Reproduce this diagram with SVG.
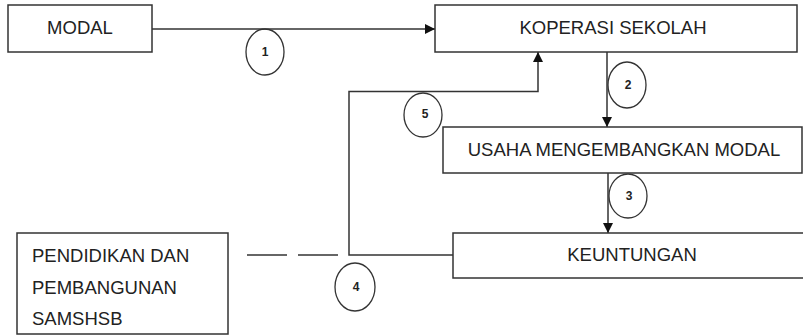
<svg xmlns="http://www.w3.org/2000/svg" width="803" height="335" viewBox="0 0 803 335">
<style>
.box{fill:#fff;stroke:#333;stroke-width:1.5}
.lbl{font-family:"Liberation Sans",Arial,sans-serif;font-size:18.5px;fill:#222}
.c{fill:none;stroke:#333;stroke-width:1.3}
.num{font-family:"Liberation Sans",Arial,sans-serif;font-size:12px;font-weight:bold;fill:#222;text-anchor:middle}
.ln{fill:none;stroke:#333;stroke-width:1.5}
</style>
<defs>
<marker id="ah" viewBox="0 0 10 10" refX="10" refY="5" markerWidth="10" markerHeight="10" markerUnits="userSpaceOnUse" orient="auto">
<path d="M0,0 L10,5 L0,10 z" fill="#111"/>
</marker>
</defs>
<rect width="803" height="335" fill="#fff"/>
<g id="connectors">
<line class="ln" x1="152" y1="29" x2="435" y2="29" marker-end="url(#ah)"/>
<line class="ln" x1="607" y1="52" x2="607" y2="127" marker-end="url(#ah)"/>
<line class="ln" x1="608" y1="173" x2="608" y2="233" marker-end="url(#ah)"/>
<polyline class="ln" points="453,255 349,255 349,91.5 538,91.5 538,52" marker-end="url(#ah)"/>
<line class="ln" x1="247" y1="255" x2="287" y2="255"/>
<line class="ln" x1="298" y1="255" x2="338" y2="255"/>
<g id="lbl1"><ellipse class="c" cx="265" cy="52" rx="19" ry="23"/><text class="num" x="265" y="56">1</text></g>
<g id="lbl2"><ellipse class="c" cx="627" cy="85" rx="19" ry="23"/><text class="num" x="628" y="89">2</text></g>
<g id="lbl3"><ellipse class="c" cx="628" cy="196" rx="19" ry="22"/><text class="num" x="629" y="200">3</text></g>
<g id="lbl4"><ellipse class="c" cx="355" cy="287" rx="20" ry="24"/><text class="num" x="356" y="291">4</text></g>
<g id="lbl5"><ellipse class="c" cx="423" cy="115" rx="19" ry="22"/><text class="num" x="425" y="118">5</text></g>
</g>
<g id="modal">
<rect class="box" x="8" y="5" width="144" height="47"/>
<text class="lbl" x="80" y="34" text-anchor="middle">MODAL</text>
</g>
<g id="koperasi">
<rect class="box" x="435" y="5" width="362" height="47"/>
<text class="lbl" x="613" y="34" text-anchor="middle">KOPERASI SEKOLAH</text>
</g>
<g id="usaha">
<rect class="box" x="443" y="127" width="359" height="46"/>
<text class="lbl" x="624" y="156" text-anchor="middle">USAHA MENGEMBANGKAN MODAL</text>
</g>
<g id="keuntungan">
<rect class="box" x="453" y="233" width="360" height="45"/>
<text class="lbl" x="632" y="261" text-anchor="middle">KEUNTUNGAN</text>
</g>
<g id="pendidikan">
<rect class="box" x="17" y="233" width="211" height="101"/>
<text class="lbl" x="32" y="262">PENDIDIKAN DAN</text>
<text class="lbl" x="32" y="294">PEMBANGUNAN</text>
<text class="lbl" x="32" y="325">SAMSHSB</text>
</g>
</svg>
